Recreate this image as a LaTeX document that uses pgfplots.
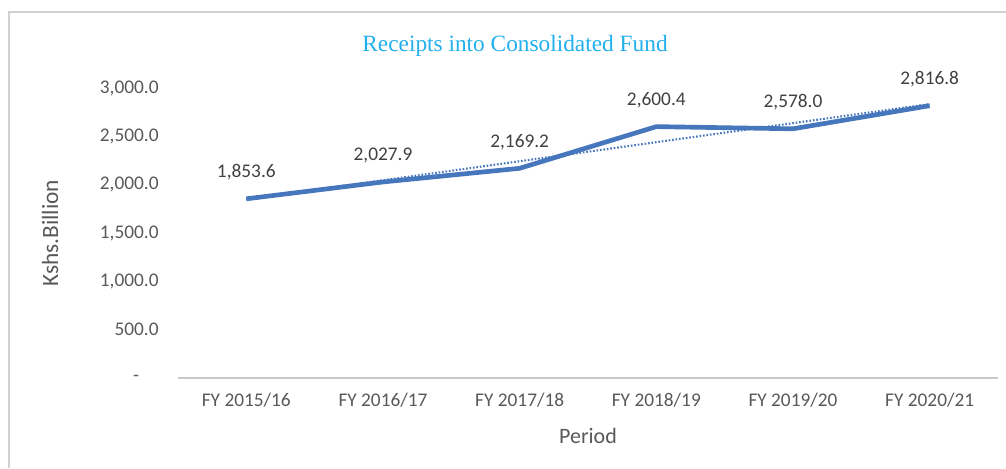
\documentclass[border=0pt]{standalone}
\usepackage{pgfplots}
\pgfplotsset{compat=1.18}
\usepackage{fontspec}
\setmainfont{Carlito}
\newfontfamily\titlefont{Liberation Serif}
\definecolor{linecol}{HTML}{4676BC}
\definecolor{tickcol}{HTML}{595959}
\definecolor{lblcol}{HTML}{404040}
\definecolor{titlecol}{HTML}{22B0EC}

\begin{document}
\begin{tikzpicture}
% 1 px of the reference = 0.75pt
\path[use as bounding box] (0pt,0pt) rectangle (754.5pt,351pt);
% chart frame
\draw[black!18, line width=1.5pt] (6.75pt,0pt) -- (6.75pt,342pt) -- (754.5pt,342pt);

\begin{axis}[
  at={(133.5pt,67.5pt)}, anchor=south west,
  scale only axis,
  width=615pt, height=217.5pt,
  xmin=-0.5, xmax=5.5,
  ymin=0, ymax=3000,
  axis x line*=bottom,
  axis y line*=left,
  y axis line style={draw=none},
  x axis line style={black!22, line width=1.2pt, -},
  major tick length=0pt,
  xtick={0,1,2,3,4,5},
  xticklabels={FY 2015/16, FY 2016/17, FY 2017/18, FY 2018/19, FY 2019/20, FY 2020/21},
  ytick={0,500,1000,1500,2000,2500,3000},
  yticklabels={-\hphantom{00}, 500.0, {1,000.0}, {1,500.0}, {2,000.0}, {2,500.0}, {3,000.0}},
  tick label style={font=\fontsize{14.5}{16}\selectfont, text=tickcol},
  xticklabel style={yshift=-8pt},
  yticklabel style={xshift=-11pt},
  /pgf/number format/assume math mode=true,
  clip=false,
]
% linear trendline
\addplot[linecol, line width=1.6pt, dash pattern=on 1.2pt off 1.4pt]
  coordinates {(0,1848.3) (5,2833.7)};
\addplot[linecol, line width=3.5pt, line join=round,
  nodes near coords={\pgfmathprintnumber[fixed,fixed zerofill,precision=1,1000 sep={,}]{\pgfplotspointmeta}},
  every node near coord/.append style={font=\fontsize{14.5}{16}\selectfont, text=lblcol, anchor=south, yshift=9pt}]
  coordinates {(0,1853.6) (1,2027.9) (2,2169.2) (3,2600.4) (4,2578.0) (5,2816.8)};
\end{axis}

\node[text=titlecol, font=\titlefont\fontsize{17.5}{19}\selectfont] at (386.25pt,316.5pt) {Receipts into Consolidated Fund};
\node[text=tickcol, font=\fontsize{17.5}{19}\selectfont, rotate=90] at (37.5pt,176pt) {Kshs.Billion};
\node[text=tickcol, font=\fontsize{16.5}{18}\selectfont] at (441pt,24pt) {Period};
\end{tikzpicture}
\end{document}
